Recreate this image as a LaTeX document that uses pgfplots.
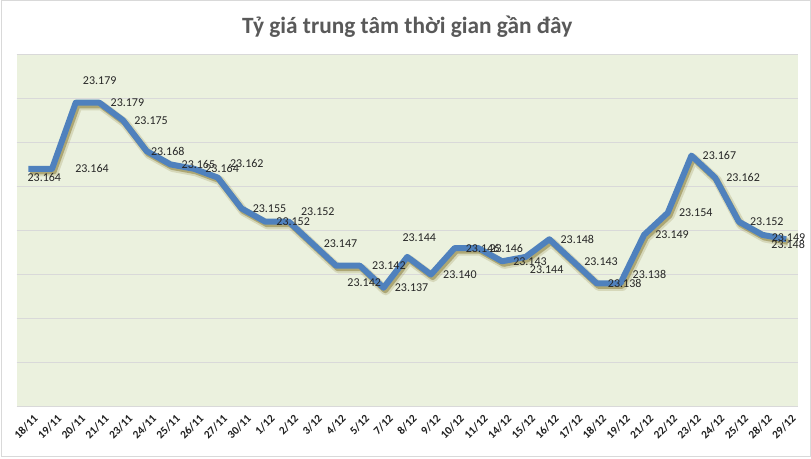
\documentclass[border=0pt]{standalone}
\usepackage{pgfplots}
\pgfplotsset{compat=1.18}
\usepackage{pgfplotstable}
\usepackage{fontspec}
\setmainfont{Carlito}
\usetikzlibrary{calc,backgrounds}
\definecolor{plotbg}{RGB}{235,241,222}
\definecolor{gridc}{RGB}{217,217,217}
\definecolor{linec}{RGB}{79,129,189}
\definecolor{shadowc}{RGB}{140,128,60}
\definecolor{titlec}{RGB}{89,89,89}
\definecolor{labc}{RGB}{38,38,38}
\pgfplotstableread{
i v dx dy lab
0 23.164 16 9 23.164
1 23.164 40 0 23.164
2 23.179 24 -22 23.179
3 23.179 28 0 23.179
4 23.175 28 0 23.175
5 23.168 21 0 23.168
6 23.165 28 0 23.165
7 23.164 28 0 23.164
8 23.162 29 -14 23.162
9 23.155 28 0 23.155
10 23.152 28 0 23.152
11 23.152 29 -10 23.152
12 23.147 28 0 23.147
13 23.142 28 17 23.142
14 23.142 29 0 23.142
15 23.137 28 0 23.137
16 23.144 12 -19 23.144
17 23.140 29 0 23.140
18 23.146 28 0 23.146
19 23.146 28 0 23.146
20 23.143 28 0 23.143
21 23.144 21 13 23.144
22 23.148 28 0 23.148
23 23.143 28 0 23.143
24 23.138 28 0 23.138
25 23.138 29 -9 23.138
26 23.149 28 0 23.149
27 23.154 28 0 23.154
28 23.167 28 0 23.167
29 23.162 28 0 23.162
30 23.152 28 0 23.152
31 23.149 26 3 23.149
32 23.148 2 5 23.148
}\rates
\begin{document}
\begin{tikzpicture}
\begin{axis}[
  name=ax,
  scale only axis,
  width=586.1pt, height=264.3pt,
  xmin=-0.5, xmax=32.5,
  ymin=23.11, ymax=23.19,
  ytick={23.11,23.12,23.13,23.14,23.15,23.16,23.17,23.18,23.19},
  yticklabels={},
  ymajorgrids,
  grid style={gridc, line width=0.75pt},
  axis line style={draw=none},
  tick style={draw=none},
  axis background/.style={fill=plotbg},
  xtick={0,...,32},
  xticklabels={18/11,19/11,20/11,21/11,23/11,24/11,25/11,26/11,27/11,30/11,1/12,2/12,3/12,4/12,5/12,7/12,8/12,9/12,10/12,11/12,14/12,15/12,16/12,17/12,18/12,19/12,21/12,22/12,23/12,24/12,25/12,28/12,29/12},
  xticklabel style={xshift=6.5pt, yshift=-6.8pt, rotate=45, anchor=east, font=\fontsize{8.5}{9}\selectfont\bfseries, text=black!88, inner sep=1pt},
  clip=false,
]
\addplot[draw=shadowc, opacity=0.22, line width=7pt, line join=round, transform canvas={xshift=1.6pt, yshift=-2.2pt}] table[x=i, y=v] {\rates};
\addplot[draw=shadowc, opacity=0.55, line width=4.5pt, line join=round, transform canvas={xshift=1.3pt, yshift=-1.9pt}] table[x=i, y=v] {\rates};
\addplot[draw=linec, line width=4.5pt, line join=round,
  visualization depends on={\thisrow{dx} \as \dx},
  visualization depends on={\thisrow{dy} \as \dy},
  point meta=explicit symbolic,
  nodes near coords,
  every node near coord/.append style={anchor=center, text=labc, font=\fontsize{9}{10}\selectfont, xshift=0.75*\dx pt, yshift=-0.75*\dy pt, inner sep=0pt},
] table[x=i, y=v, meta=lab] {\rates};
\end{axis}
\begin{scope}[on background layer]
\fill[white] ($(ax.south west)+(-12.375pt,-38.5pt)$) rectangle ($(ax.north east)+(9.75pt,40.7pt)$);
\end{scope}
\draw[gridc, line width=0.75pt] ($(ax.south west)+(-11.6pt,-37.5pt)$) rectangle ($(ax.north east)+(9pt,40.3pt)$);
\node[font=\fontsize{17.5}{19}\selectfont\bfseries, text=titlec] at ($(ax.north)+(0,20.5pt)$) {Tỷ giá trung tâm thời gian gần đây};
\useasboundingbox ($(ax.south west)+(-12.375pt,-38.5pt)$) rectangle ($(ax.north east)+(9.75pt,40.7pt)$);
\end{tikzpicture}
\end{document}
